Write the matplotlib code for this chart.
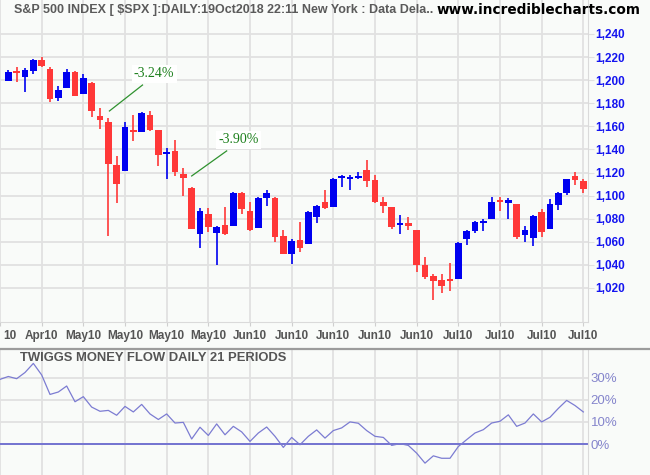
import matplotlib
matplotlib.use("Agg")
import matplotlib.pyplot as plt
import numpy as np
from matplotlib.lines import Line2D
import matplotlib.transforms as mtransforms

# ---------------- data ----------------
opens = [1199.6, 1207.0, 1203.0, 1208.2, 1217.5, 1209.7, 1184.8, 1193.5, 1207.1, 1188.3,
         1197.8, 1169.0, 1163.8, 1126.2, 1121.6, 1156.6, 1155.4, 1169.5, 1156.8, 1136.3,
         1138.7, 1118.7, 1106.9, 1067.0, 1084.1, 1067.3, 1074.6, 1074.0, 1102.3, 1086.7,
         1072.0, 1098.2, 1098.0, 1065.0, 1049.7, 1061.6, 1058.4, 1081.8, 1094.5, 1090.4,
         1115.5, 1115.3, 1115.6, 1122.2, 1113.6, 1094.5, 1090.1, 1075.4, 1076.3, 1070.2,
         1039.9, 1030.1, 1026.9, 1027.2, 1028.1, 1062.7, 1069.4, 1076.6, 1080.0, 1095.4,
         1093.9, 1092.7, 1066.2, 1063.6, 1085.8, 1071.4, 1092.2, 1102.3, 1117.0, 1112.7]
highs = [1208.8, 1211.1, 1210.5, 1218.0, 1219.8, 1211.1, 1195.0, 1209.7, 1208.0, 1205.6,
         1198.2, 1175.9, 1167.2, 1134.3, 1163.8, 1169.5, 1172.7, 1173.3, 1157.2, 1141.0,
         1148.2, 1123.9, 1107.3, 1089.0, 1089.0, 1073.7, 1090.1, 1103.1, 1102.7, 1094.2,
         1098.4, 1104.9, 1098.4, 1070.2, 1062.4, 1077.2, 1086.4, 1092.2, 1104.9, 1115.3,
         1117.9, 1118.2, 1120.5, 1130.9, 1117.9, 1098.8, 1090.5, 1083.2, 1081.5, 1070.6,
         1046.8, 1032.1, 1032.1, 1041.9, 1059.8, 1070.2, 1077.6, 1079.8, 1099.1, 1099.1,
         1098.0, 1093.1, 1073.7, 1083.5, 1088.4, 1097.1, 1103.1, 1114.8, 1120.5, 1114.4]
lows = [1199.0, 1198.7, 1190.0, 1205.3, 1211.7, 1181.4, 1182.3, 1193.0, 1186.3, 1188.0,
        1168.4, 1158.0, 1065.3, 1093.9, 1121.2, 1147.6, 1155.0, 1156.3, 1125.7, 1114.7,
        1117.0, 1100.0, 1071.0, 1054.9, 1068.2, 1040.2, 1066.2, 1073.6, 1084.4, 1069.6,
        1071.6, 1091.3, 1060.1, 1049.1, 1041.1, 1051.5, 1058.0, 1076.6, 1088.7, 1090.0,
        1107.2, 1104.9, 1114.1, 1107.8, 1093.9, 1085.2, 1071.4, 1067.0, 1070.2, 1034.1,
        1027.5, 1009.6, 1015.4, 1017.7, 1027.7, 1057.5, 1067.9, 1069.4, 1079.6, 1087.0,
        1080.0, 1062.7, 1060.1, 1056.6, 1064.5, 1071.0, 1087.6, 1100.5, 1109.2, 1102.3]
closes = [1207.1, 1206.5, 1208.8, 1217.5, 1212.6, 1184.0, 1191.5, 1207.1, 1186.6, 1201.9,
          1173.6, 1165.8, 1127.7, 1110.4, 1159.2, 1156.0, 1171.9, 1156.8, 1135.5, 1136.9,
          1120.8, 1115.0, 1071.4, 1086.7, 1073.1, 1072.8, 1067.0, 1102.3, 1088.7, 1070.2,
          1098.0, 1102.0, 1064.5, 1049.7, 1060.7, 1054.9, 1085.8, 1091.0, 1089.3, 1114.4,
          1116.1, 1115.9, 1117.3, 1113.0, 1094.8, 1091.3, 1073.1, 1076.0, 1074.0, 1039.9,
          1029.8, 1026.3, 1022.0, 1026.6, 1059.0, 1069.4, 1077.2, 1078.3, 1094.5, 1094.8,
          1096.2, 1064.5, 1070.2, 1082.4, 1068.8, 1092.7, 1102.3, 1114.4, 1113.8, 1106.0]

# Twiggs money flow (%), starts one session before the first candle
money_flow = [29.2, 30.5, 29.5, 32.3, 36.4, 31.2, 22.4, 23.5, 26.2, 19.1, 21.4,
              16.7, 14.8, 15.2, 13.0, 17.0, 14.5, 17.9, 13.6, 11.1, 13.6,
              9.5, 9.8, 2.3, 7.6, 3.9, 9.1, 4.2, 8.0, 5.5, 1.2,
              5.0, 7.7, 3.5, -1.5, 3.0, -0.3, 3.5, 6.4, 2.7, 6.1,
              7.3, 10.0, 9.4, 6.1, 3.5, 3.0, -0.6, 0.2, -0.6, -4.1,
              -8.6, -5.3, -6.4, -6.4, -1.1, 2.0, 5.0, 6.5, 9.5, 10.3,
              13.2, 8.0, 9.5, 13.6, 10.0, 12.1, 16.1, 19.7, 17.4, 14.5]

tick_labels = ["10", "Apr10", "May10", "May10", "May10", "May10", "Jun10", "Jun10",
               "Jun10", "Jun10", "Jun10", "Jul10", "Jul10", "Jul10", "Jul10"]
price_ticks = [1020, 1040, 1060, 1080, 1100, 1120, 1140, 1160, 1180, 1200, 1220, 1240]
flow_ticks = [0, 10, 20, 30]
drops = ["-3.24%", "-3.90%"]

title_text = "S&P 500 INDEX [ $SPX ]:DAILY:19Oct2018 22:11 New York : Data Dela.."
site_text = "www.incrediblecharts.com"
panel_text = "TWIGGS MONEY FLOW DAILY 21 PERIODS"

# ---------------- style ----------------
BG = "#f9fbf9"
GRID = "#e1e1e1"
UP = "#0000f0"
DOWN = "#ff3838"
W, H = 650, 475
SANS = ["Liberation Sans", "DejaVu Sans"]

fig = plt.figure(figsize=(6.5, 4.75), dpi=100, facecolor=BG)
ax = fig.add_axes([0, 1 - 322 / H, 588 / W, 322 / H], facecolor=BG)
ax2 = fig.add_axes([0, 0, 588 / W, 126 / H], facecolor=BG)

o = np.array(opens); c = np.array(closes); h = np.array(highs); l = np.array(lows)
x = np.arange(len(o))
cols = np.where(c >= o, UP, DOWN)
bot = np.minimum(o, c)
hgt = np.maximum(np.abs(c - o), 1.6)
bot = np.where(np.abs(c - o) < 1.6, (o + c) / 2 - 0.8, bot)

ax.vlines(x, l, h, colors=cols, lw=1.2, zorder=3)
ax.bar(x, hgt, bottom=bot, width=0.8, color=cols, linewidth=0, zorder=4)

xlim = (-0.69, 69.56)
ax.set_xlim(*xlim)
ax.set_ylim(990.5, 1269.45)
xt = list(range(-1, len(o), 5))
ax.set_xticks(xt)
ax.set_xticklabels(tick_labels)
ax.set_yticks(price_ticks)
ax.set_yticklabels([f"{v:,}" for v in price_ticks])
ax.yaxis.tick_right()
ax.grid(True, color=GRID, lw=1.3, zorder=0)
ax.set_axisbelow(True)
for s in ["top", "left"]:
    ax.spines[s].set_visible(False)
ax.spines["right"].set_color("#dadada")
ax.spines["bottom"].set_color("#dadada")
ax.tick_params(axis="y", length=4, color=GRID, pad=1, labelsize=8.5, labelcolor="#1414f0")
ax.tick_params(axis="x", length=3, color="#cfcfcf", pad=3, labelsize=8.5, labelcolor="#555555")
for t in ax.get_yticklabels() + ax.get_xticklabels():
    t.set_fontweight("bold")
    t.set_family(SANS)
# first (partial-week) label sits against the left edge
first = ax.get_xticklabels()[0]
first.set_horizontalalignment("left")
first.set_transform(first.get_transform() + mtransforms.ScaledTranslation(3 / 100, 0, fig.dpi_scale_trans))

# annotations
ax.plot([12.13, 16.1], [1173.3, 1195.8], color="#2f922f", lw=0.9, zorder=5)
ax.text(17.5, 1205.4, drops[0], ha="center", va="center", color="#1b7f1b",
        family=["Liberation Serif", "DejaVu Serif"], fontsize=10,
        bbox=dict(fc="white", ec="none", pad=1.5), zorder=6)
ax.plot([22.0, 26.2], [1117.0, 1138.7], color="#2f922f", lw=0.9, zorder=5)
ax.text(27.6, 1148.2, drops[1], ha="center", va="center", color="#1b7f1b",
        family=["Liberation Serif", "DejaVu Serif"], fontsize=10,
        bbox=dict(fc="white", ec="none", pad=1.5), zorder=6)

# titles
fig.text(14 / W, 1 - 10 / H, title_text, ha="left", va="center", color="#5a5a5a",
         fontsize=9, family=SANS, fontweight="bold")
fig.text(641 / W, 1 - 10 / H, site_text, ha="right", va="center", color="#000000",
         fontsize=9.8, family=["DejaVu Sans"], fontweight="bold")

# separator
fig.add_artist(Line2D([0, 1], [1 - 349 / H] * 2, color="#9c9c9c", lw=1.6))

# lower panel
xm = np.arange(-1, len(money_flow) - 1)
ax2.plot(xm, money_flow, color="#7c7cd2", lw=0.9, zorder=3)
ax2.axhline(0, color="#6b6bd0", lw=1.3, zorder=2)
ax2.set_xlim(*xlim)
ax2.set_ylim(-13.95, 42.9)
ax2.set_xticks(xt)
ax2.set_xticklabels([])
ax2.set_yticks(flow_ticks)
ax2.set_yticklabels([f"{v}%" for v in flow_ticks])
ax2.yaxis.tick_right()
ax2.grid(True, color=GRID, lw=1.3, zorder=0)
ax2.set_axisbelow(True)
for s in ["top", "left", "bottom"]:
    ax2.spines[s].set_visible(False)
ax2.spines["right"].set_color("#dadada")
ax2.tick_params(axis="y", length=0, pad=2, labelsize=9.5, labelcolor="#8585cc")
ax2.tick_params(axis="x", length=0)
for t in ax2.get_yticklabels():
    t.set_family(SANS)
fig.text(20 / W, 1 - 358 / H, panel_text, ha="left", va="center", color="#555555",
         fontsize=9.4, family=SANS, fontweight="bold")

fig.savefig("out.png", dpi=100, facecolor=BG)
